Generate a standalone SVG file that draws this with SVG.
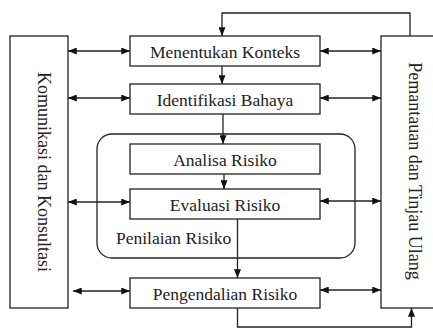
<svg xmlns="http://www.w3.org/2000/svg" width="433" height="329" viewBox="0 0 433 329">
<style>
.box{fill:#fff;stroke:#222;stroke-width:1.3}
.grp{fill:none;stroke:#222;stroke-width:1.3}
.t{font-family:"Liberation Serif","Times New Roman",serif;font-size:17.5px;fill:#222;text-anchor:middle}
.tv{font-family:"Liberation Serif","Times New Roman",serif;font-size:18px;fill:#222;text-anchor:middle}
.c{fill:none;stroke:#222;stroke-width:1.3}
.a1{marker-end:url(#ah)}
.a2{marker-start:url(#ah);marker-end:url(#ah)}
</style>
<defs>
<marker id="ah" viewBox="0 0 10 8" refX="10" refY="4" markerWidth="9" markerHeight="7" markerUnits="userSpaceOnUse" orient="auto-start-reverse">
<path d="M0,0 L10,4 L0,8 z" fill="#111"/>
</marker>
</defs>
<rect width="433" height="329" fill="#fff"/>
<g id="penilaian">
<rect class="grp" x="97" y="134" width="258" height="124" rx="15"/>
<text x="116" y="244" class="t" style="text-anchor:start">Penilaian Risiko</text>
</g>
<g id="komunikasi">
<rect class="box" x="10" y="36" width="58" height="272"/>
<text class="tv" transform="translate(38,172) rotate(90)">Komunikasi dan Konsultasi</text>
</g>
<g id="pemantauan">
<rect class="box" x="381" y="36" width="60" height="272"/>
<text class="tv" transform="translate(409,171) rotate(90)">Pemantauan dan Tinjau Ulang</text>
</g>
<g id="menentukan">
<rect class="box" x="130" y="36" width="190" height="30"/>
<text x="225" y="58" class="t">Menentukan Konteks</text>
</g>
<g id="identifikasi">
<rect class="box" x="130" y="84" width="190" height="30"/>
<text x="225" y="106" class="t">Identifikasi Bahaya</text>
</g>
<g id="analisa">
<rect class="box" x="130" y="144" width="190" height="30"/>
<text x="225" y="166" class="t">Analisa Risiko</text>
</g>
<g id="evaluasi">
<rect class="box" x="130" y="189" width="190" height="30"/>
<text x="225" y="211" class="t">Evaluasi Risiko</text>
</g>
<g id="pengendalian">
<rect class="box" x="130" y="278" width="190" height="30"/>
<text x="225" y="300" class="t">Pengendalian Risiko</text>
</g>
<g id="connectors">
<path class="c a2" d="M68,51 H130"/>
<path class="c a2" d="M68,98 H130"/>
<path class="c a2" d="M68,202 H130"/>
<path class="c a2" d="M73,291 H130"/>
<path class="c a2" d="M320,51 H381"/>
<path class="c a2" d="M320,98 H381"/>
<path class="c a2" d="M320,201 H381"/>
<path class="c a2" d="M320,290 H381"/>
<path class="c a1" d="M410,36 V13 H222 V36"/>
<path class="c a1" d="M222,66 V84"/>
<path class="c a1" d="M223,114 V144"/>
<path class="c a1" d="M224,174 V189"/>
<path class="c a1" d="M237.5,219 V278"/>
<path class="c a1" d="M237.5,308 V327 H411.5 V308"/>
</g>
</svg>
